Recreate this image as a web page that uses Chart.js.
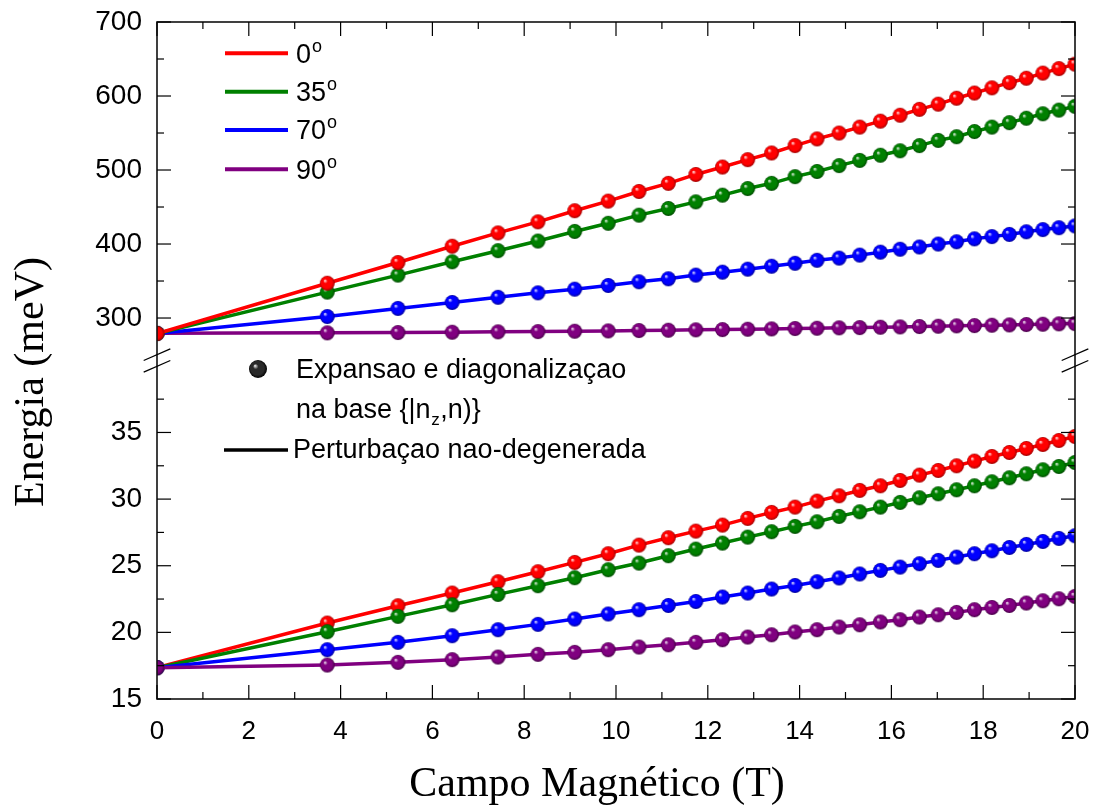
<!DOCTYPE html>
<html>
<head>
<meta charset="utf-8">
<script src="https://cdn.jsdelivr.net/npm/chart.js@4.4.1/dist/chart.umd.min.js"></script>
<style>
html,body{margin:0;padding:0;background:#fff;}
#wrap{width:1095px;height:805px;position:relative;}
</style>
</head>
<body>
<div id="wrap"><canvas id="c" width="1095" height="805"></canvas></div>
<script>
// ---------------- data ----------------
const fieldB = [0, 3.71, 5.25, 6.43, 7.43, 8.30, 9.10, 9.83, 10.50, 11.14, 11.74, 12.32, 12.87, 13.39, 13.90,
  14.38, 14.86, 15.31, 15.76, 16.19, 16.61, 17.02, 17.42, 17.81, 18.19, 18.57, 18.94, 19.30, 19.65, 20.00];

// upper level (meV)
const upper0  = [279, 347, 375, 397, 415, 430, 445, 458, 471, 482, 494, 504, 514, 523, 533, 542, 550, 558, 566, 574, 582, 589, 597, 604, 611, 618, 624, 631, 637, 643];
const upper35 = [279, 335, 358, 376, 391, 404, 417, 428, 439, 448, 457, 466, 475, 482, 491, 498, 506, 513, 520, 526, 533, 540, 545, 552, 558, 564, 570, 576, 581, 586];
const upper70 = [279, 302, 313, 321, 328, 334, 339, 344, 349, 353, 358, 362, 366, 370, 374, 378, 381, 385, 389, 393, 396, 400, 403, 407, 410, 413, 416.5, 419.5, 422, 424.5];
const upper90 = [279.5, 280, 280.4, 280.8, 281.3, 281.7, 282.2, 282.6, 283.1, 283.5, 284, 284.4, 284.9, 285.3, 285.8, 286.2, 286.7, 287.1, 287.6, 288, 288.5, 288.9, 289.4, 289.8, 290.3, 290.7, 291.2, 291.6, 292.1, 292.5];

// lower level (meV)
const lower0  = [17.35, 20.7, 22.0, 22.95, 23.8, 24.55, 25.25, 25.9, 26.55, 27.1, 27.6, 28.05, 28.55, 29.0, 29.4, 29.85, 30.25, 30.65, 31.0, 31.4, 31.8, 32.15, 32.5, 32.85, 33.2, 33.5, 33.8, 34.1, 34.4, 34.7];
const lower35 = [17.35, 20.05, 21.2, 22.07, 22.85, 23.5, 24.1, 24.7, 25.2, 25.75, 26.25, 26.7, 27.15, 27.55, 27.95, 28.3, 28.7, 29.05, 29.4, 29.75, 30.1, 30.4, 30.7, 31.0, 31.3, 31.6, 31.9, 32.2, 32.45, 32.75];
const lower70 = [17.35, 18.7, 19.25, 19.75, 20.2, 20.6, 21.0, 21.38, 21.7, 22.02, 22.32, 22.65, 22.95, 23.25, 23.52, 23.8, 24.08, 24.38, 24.65, 24.9, 25.15, 25.4, 25.65, 25.9, 26.12, 26.37, 26.6, 26.82, 27.05, 27.25];
const lower90 = [17.35, 17.55, 17.75, 17.95, 18.15, 18.35, 18.5, 18.7, 18.9, 19.07, 19.25, 19.45, 19.65, 19.82, 20.03, 20.2, 20.4, 20.57, 20.78, 20.95, 21.15, 21.32, 21.5, 21.7, 21.87, 22.02, 22.2, 22.37, 22.52, 22.7];

// angles / legend
const angleLabels = ['0', '35', '70', '90'];
const angleColors = ['#ff0000', '#008000', '#0000ff', '#800080'];
const angleDark   = ['#a00000', '#004a00', '#00009a', '#480048'];

// ticks
const xTickVals   = [0, 2, 4, 6, 8, 10, 12, 14, 16, 18, 20];
const xMinorVals  = [1, 3, 5, 7, 9, 11, 13, 15, 17, 19];
const upTickVals  = [300, 400, 500, 600, 700];
const upMinorVals = [350, 450, 550, 650];
const loTickVals  = [15, 20, 25, 30, 35];
const loMinorVals = [17.5, 22.5, 27.5, 32.5, 37.5];

const xTitle = 'Campo Magnético (T)';
const yTitle = 'Energia (meV)';
const legendSymbolText = ['Expansao e diagonalizaçao', 'na base {|n', 'z', ',n)}'];
const legendLineText = 'Perturbaçao nao-degenerada';

// ---------------- helpers ----------------
const SANS = '"Liberation Sans", Arial, Helvetica, sans-serif';
const SERIF = '"Liberation Serif", "Times New Roman", Times, serif';

function sphere(color, dark, r) {
  const s = Math.ceil(2 * r + 2);
  const c = document.createElement('canvas');
  c.width = s; c.height = s;
  const g = c.getContext('2d');
  const cx = s / 2, cy = s / 2;
  const grad = g.createRadialGradient(cx - 0.35 * r, cy - 0.38 * r, 0, cx, cy, r);
  grad.addColorStop(0, '#ffffff');
  grad.addColorStop(0.3, color);
  grad.addColorStop(0.75, color);
  grad.addColorStop(1, dark);
  g.fillStyle = grad;
  g.beginPath(); g.arc(cx, cy, r, 0, Math.PI * 2); g.fill();
  return c;
}

const upperSeries = [upper0, upper35, upper70, upper90];
const lowerSeries = [lower0, lower35, lower70, lower90];

function makeDs(label, values, i, axis) {
  return {
    label: label,
    data: fieldB.map((b, k) => ({x: b, y: values[k]})),
    xAxisID: 'x', yAxisID: axis,
    borderColor: angleColors[i], backgroundColor: angleColors[i],
    borderWidth: 3.5, tension: 0, fill: false,
    pointStyle: sphere(angleColors[i], angleDark[i], 7.4),
    pointRadius: 7, pointHoverRadius: 7
  };
}

const datasets = [];
upperSeries.forEach((v, i) => datasets.push(makeDs(angleLabels[i] + '° sup', v, i, 'yTop')));
[3, 2, 1, 0].forEach(i => datasets.push(makeDs(angleLabels[i] + '° inf', lowerSeries[i], i, 'yBot')));

const tickFontY = {family: SANS, size: 28};
const tickFontX = {family: SANS, size: 26};

function line(ctx, x1, y1, x2, y2) { ctx.beginPath(); ctx.moveTo(x1, y1); ctx.lineTo(x2, y2); ctx.stroke(); }

const decorPlugin = {
  id: 'decor',
  afterDraw(chart) {
    const ctx = chart.ctx, a = chart.chartArea;
    const sx = chart.scales.x, sT = chart.scales.yTop, sB = chart.scales.yBot;
    ctx.save();
    // frame
    ctx.strokeStyle = '#111'; ctx.lineWidth = 1.6;
    ctx.strokeRect(a.left, a.top, a.right - a.left, a.bottom - a.top);
    // inward ticks
    ctx.lineWidth = 1.2; ctx.strokeStyle = '#000';
    const MAJ = 14, MIN = 7;
    const hT = (v, len) => { const p = sx.getPixelForValue(v); line(ctx, p, a.bottom, p, a.bottom - len); line(ctx, p, a.top, p, a.top + len); };
    const vT = (s, v, len) => { const p = s.getPixelForValue(v); line(ctx, a.left, p, a.left + len, p); line(ctx, a.right, p, a.right - len, p); };
    xTickVals.forEach(v => hT(v, MAJ)); xMinorVals.forEach(v => hT(v, MIN));
    upTickVals.forEach(v => vT(sT, v, MAJ)); upMinorVals.forEach(v => vT(sT, v, MIN));
    loTickVals.forEach(v => vT(sB, v, MAJ)); loMinorVals.forEach(v => vT(sB, v, MIN));
    // axis break marks
    const yb = sT.bottom;
    ctx.lineWidth = 1.3;
    [a.left, a.right].forEach(ax => {
      [-5.8, 5.8].forEach(d => line(ctx, ax - 13.3, yb + d + 5.8, ax + 13.3, yb + d - 5.8));
    });
    // legend 1 (angles)
    const rows = [53.3, 91.7, 130, 169.3];
    ctx.lineWidth = 4; ctx.lineCap = 'butt';
    rows.forEach((ry, i) => {
      ctx.strokeStyle = angleColors[i];
      line(ctx, 225, ry, 288, ry);
      ctx.fillStyle = '#000'; ctx.textBaseline = 'alphabetic'; ctx.textAlign = 'left';
      ctx.font = '27px ' + SANS;
      const base = ry + 9.3;
      ctx.fillText(angleLabels[i], 296, base);
      const w = ctx.measureText(angleLabels[i]).width;
      ctx.font = '18px ' + SANS;
      ctx.fillText('o', 296 + w + 1, base - 11);
    });
    // legend 2
    ctx.drawImage(sphere('#2a2a2a', '#000', 9), 258 - 10, 369 - 10);
    ctx.fillStyle = '#000'; ctx.font = '27px ' + SANS; ctx.textBaseline = 'alphabetic';
    ctx.fillText(legendSymbolText[0], 296, 378.3);
    ctx.fillText(legendSymbolText[1], 296, 418);
    let w2 = ctx.measureText(legendSymbolText[1]).width;
    ctx.font = '17px ' + SANS;
    ctx.fillText(legendSymbolText[2], 296 + w2 + 0.5, 424.5);
    const wz = ctx.measureText(legendSymbolText[2]).width;
    ctx.font = '27px ' + SANS;
    ctx.fillText(legendSymbolText[3], 296 + w2 + wz + 1, 418);
    ctx.strokeStyle = '#000'; ctx.lineWidth = 3.5;
    line(ctx, 224, 450, 288, 450);
    ctx.fillText(legendLineText, 293, 458.3);
    // axis titles
    ctx.font = '42px ' + SERIF; ctx.textAlign = 'center'; ctx.textBaseline = 'alphabetic';
    ctx.fillText(xTitle, 597, 796);
    ctx.translate(43, 382); ctx.rotate(-Math.PI / 2);
    ctx.fillText(yTitle, 0, 0);
    ctx.restore();
  }
};

function fixedTicks(vals) { return s => { s.ticks = vals.map(v => ({value: v})); }; }

const chart = new Chart(document.getElementById('c'), {
  type: 'line',
  data: {datasets: datasets},
  options: {
    responsive: false, animation: false, devicePixelRatio: 1,
    layout: {autoPadding: false, padding: {top: 22, right: 20, bottom: 0, left: 0}},
    plugins: {legend: {display: false}, tooltip: {enabled: false}},
    scales: {
      x: {
        type: 'linear', position: 'bottom', min: 0, max: 20,
        afterBuildTicks: fixedTicks(xTickVals),
        ticks: {autoSkip: false, maxRotation: 0, padding: 0, color: '#000', font: tickFontX},
        grid: {display: false, drawTicks: true, tickLength: 17}, border: {display: false},
        afterFit: s => { s.height = 106; }
      },
      yBot: {
        type: 'linear', position: 'left', stack: 'energy', stackWeight: 1, min: 15, max: 40.4,
        afterBuildTicks: fixedTicks(loTickVals),
        ticks: {autoSkip: false, padding: 0, color: '#000', font: tickFontY},
        grid: {display: false, drawTicks: true, tickLength: 15}, border: {display: false},
        afterFit: s => { s.width = 157; }
      },
      yTop: {
        type: 'linear', position: 'left', stack: 'energy', stackWeight: 1, min: 242.6, max: 700,
        afterBuildTicks: fixedTicks(upTickVals),
        ticks: {autoSkip: false, padding: 0, color: '#000', font: tickFontY},
        grid: {display: false, drawTicks: true, tickLength: 15}, border: {display: false},
        afterFit: s => { s.width = 157; }
      }
    }
  },
  plugins: [decorPlugin]
});
</script>
</body>
</html>
